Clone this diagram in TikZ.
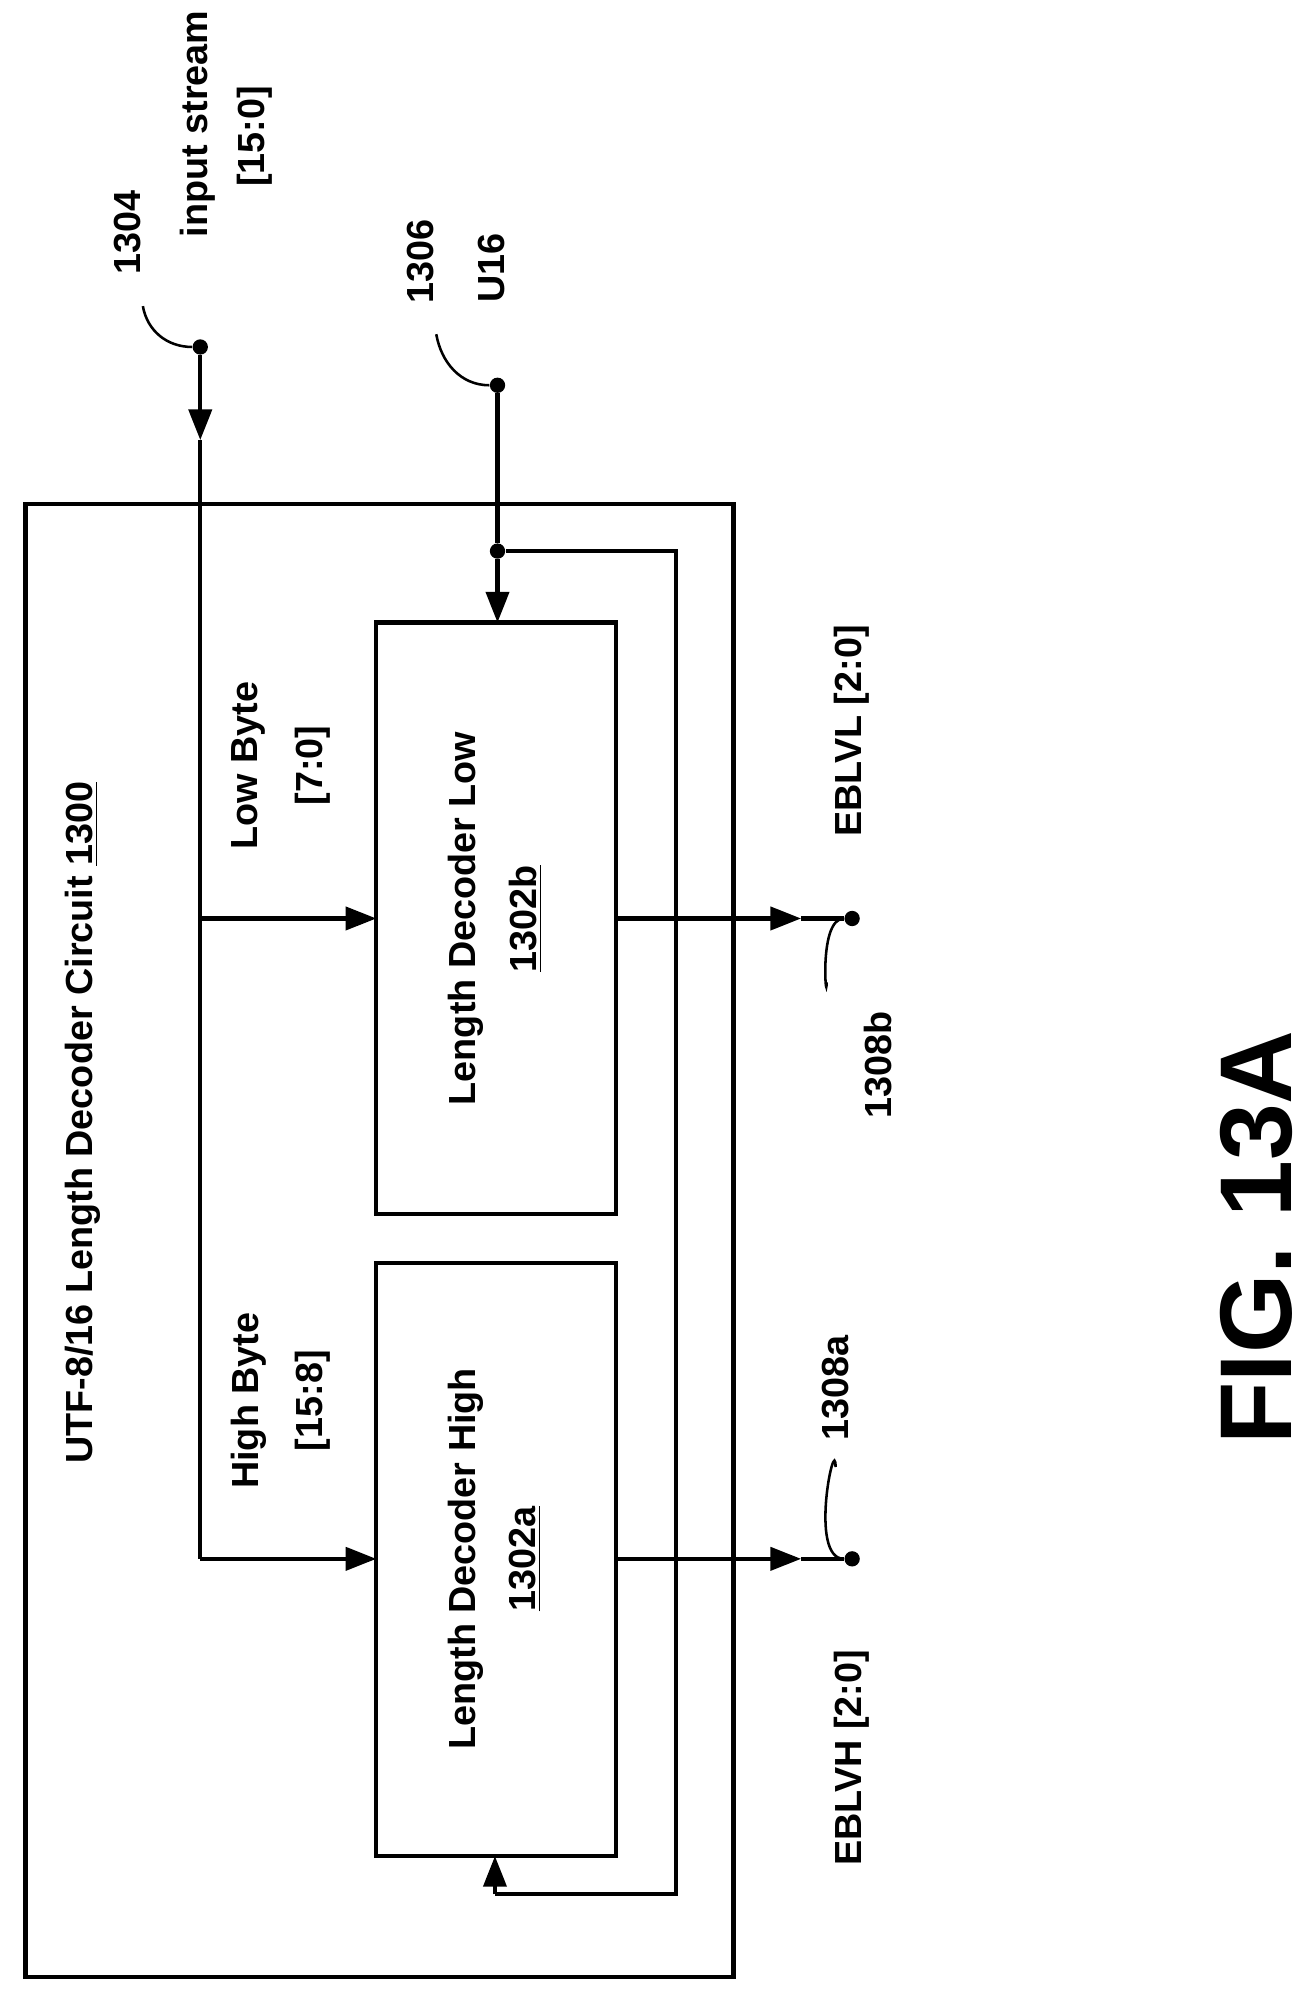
\documentclass[tikz,border=0pt]{standalone}
\usepackage{fontspec}
\setmainfont{Liberation Sans}
\usetikzlibrary{arrows.meta}
\begin{document}
\begin{tikzpicture}[x=0.5pt,y=-0.5pt,
  txt/.style={font=\bfseries\fontsize{14.8}{18}\selectfont,rotate=90,inner sep=0pt},
  ln/.style={line width=1.6pt},
  arr/.style={ln,-{Triangle[length=12pt,width=9pt]}},
  dot/.style={circle,fill,minimum size=6pt,inner sep=0pt}]
\useasboundingbox (0,0) rectangle (1030,1560);
\draw[line width=1.6pt] (20,395) rectangle (575,1550);
\node[txt] at (65,880) {UTF-8/16 Length Decoder Circuit \underline{1300}};
\draw[ln] (295,488) rectangle (483,952);
\draw[ln] (295,990) rectangle (483,1455);
\coordinate (low) at (295,720);
\coordinate (high) at (295,1222);
\node[txt] at (365,720) {Length Decoder Low};
\node[txt] at (412,720) {\underline{1302b}};
\node[txt] at (365,1222) {Length Decoder High};
\node[txt] at (412,1222) {\underline{1302a}};
% input
\node[dot] (in) at (157,272) {};
\coordinate (ia) at (157,345);
\coordinate (jl) at (157,720);
\coordinate (jh) at (157,1222);
\draw[arr] (in) -- (ia);
\draw[ln] (ia) -- (jh);
\draw[arr] (jl) -- (low);
\draw[arr] (jh) -- (high);
\node[txt] at (195,600) {Low Byte};
\node[txt] at (245,600) {[7:0]};
\node[txt] at (195,1098) {High Byte};
\node[txt] at (245,1098) {[15:8]};
\node[txt] at (155,97) {input stream};
\node[txt] at (200,107) {[15:0]};
\node[txt] (n1304) at (100,182) {1304};
\draw[line width=1pt] (112,240) to[out=-80,in=180] (in);
% U16
\node[dot] (u) at (390,302) {};
\node[dot] (uj) at (390,432) {};
\coordinate (lowtop) at (390,488);
\coordinate (hb) at (388,1485);
\coordinate (highbot) at (388,1455);
\draw[ln] (u) -- (uj);
\draw[arr] (uj) -- (lowtop);
\draw[ln] (uj) -- (530,432) -- (530,1485) -- (hb);
\draw[arr] (hb) -- (highbot);
\node[txt] at (330,205) {1306};
\node[txt] at (385,210) {U16};
\draw[line width=1pt] (342,262) to[out=-80,in=180] (u);
% outputs
\node[dot] (ol) at (668,720) {};
\node[dot] (oh) at (668,1222) {};
\coordinate (al) at (628,720);
\coordinate (ah) at (628,1222);
\draw[arr] (483,720) -- (al);
\draw[ln] (al) -- (ol);
\draw[arr] (483,1222) -- (ah);
\draw[ln] (ah) -- (oh);
\node[txt] at (668,573) {EBLVL [2:0]};
\node[txt] at (668,1378) {EBLVH [2:0]};
\node[txt] at (688,835) {1308b};
\node[txt] at (655,1088) {1308a};
\draw[line width=1pt] (ol) to[out=180,in=-90] (648,770);
\draw[line width=1pt] (oh) to[out=180,in=90] (655,1150);
\node[txt,font=\bfseries\fontsize{40}{46}\selectfont] at (985,970) {FIG. 13A};
\end{tikzpicture}
\end{document}
